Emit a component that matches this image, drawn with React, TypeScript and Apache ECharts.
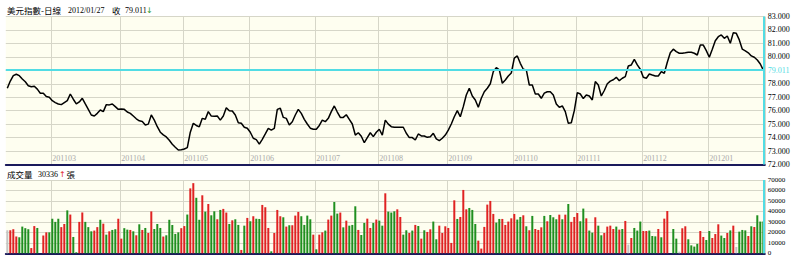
import React, { useEffect, useRef } from 'react';
import * as echarts from 'echarts';

// ---- data ----
const startDate = '2011-02-08';
const holidays = ['2012-01-02'];
const pointCount = 253;

const closes = [
  77.67, 78.2, 78.6, 78.71, 78.6, 78.35, 78.15, 77.85, 77.78, 77.82,
  77.6, 77.3, 77.3, 77.05, 77.0, 76.74, 76.6, 76.5, 76.45, 76.6,
  76.75, 77.24, 76.85, 76.5, 76.65, 76.92, 76.5, 76.1, 75.68, 75.6,
  75.8, 76.05, 75.93, 76.45, 76.43, 76.5, 76.3, 76.1, 76.12, 76.1,
  75.9, 75.8, 75.6, 75.4, 75.25, 75.2, 74.94, 75.0, 75.68, 75.3,
  74.81, 74.4, 74.2, 74.05, 73.8, 73.5, 73.28, 73.08, 73.1, 73.15,
  73.25, 74.4, 75.06, 74.9, 74.8, 75.43, 75.36, 75.93, 75.6, 75.58,
  75.6, 75.3, 75.6, 76.22, 76.0, 75.98, 75.68, 75.11, 75.06, 74.77,
  74.69, 74.4, 73.95, 73.85, 73.52, 73.87, 74.27, 74.69, 74.56, 74.69,
  76.1, 76.18, 75.5, 75.43, 74.94, 75.18, 75.68, 76.1, 75.8, 75.36,
  75.01, 74.7, 74.62, 74.62, 74.9, 75.3, 75.18, 75.43, 75.93, 76.35,
  75.9, 75.5, 75.5, 75.7, 75.36, 75.01, 74.19, 74.36, 74.1, 73.62,
  74.0, 74.36, 74.07, 74.4, 74.62, 74.19, 75.3, 75.0, 74.81, 74.77,
  74.77, 74.77, 74.77, 74.32, 74.0, 74.0, 73.82, 74.27, 74.12, 74.12,
  74.02, 74.07, 74.32, 73.9, 73.77, 73.95, 74.19, 74.56, 75.01, 75.55,
  76.0, 75.55, 76.3, 77.17, 77.67, 77.09, 76.8, 76.25, 76.92, 77.41,
  77.67, 78.0, 78.9, 79.2, 79.03, 78.04, 78.28, 78.58, 78.8, 79.9,
  80.07, 79.52, 79.08, 79.03, 77.91, 77.91, 77.24, 77.24, 76.92, 77.3,
  77.41, 77.41, 77.17, 76.5, 76.25, 76.35, 75.93, 75.06, 75.1, 76.0,
  77.34, 77.24, 76.9, 77.17, 77.09, 76.8, 78.16, 77.91, 77.09, 77.5,
  78.0, 78.2, 78.3, 78.48, 78.23, 78.41, 78.53, 79.32, 79.4, 79.82,
  79.4, 79.08, 78.48, 78.41, 78.73, 78.65, 78.58, 78.58, 78.9, 78.78,
  79.6, 80.3, 80.57, 80.39, 80.27, 80.27, 80.3, 80.34, 80.34, 80.27,
  80.14, 80.88, 80.88, 80.46, 79.97, 80.57, 81.2, 81.5, 81.63, 81.38,
  81.55, 81.01, 81.8, 81.75, 81.26, 80.57, 80.45, 80.3, 80.07, 79.97,
  79.77, 79.47, 79.011,
];

const volumes = [
  22000, 22000, 23000, 16000, 15300, 25500, 24000, 23000, 5000, 26000,
  24200, 0, 17000, 20000, 20000, 33000, 30000, 33000, 25000, 28000,
  41000, 37000, 15600, 1000, 30000, 39000, 30000, 25000, 21000, 21700,
  25000, 32000, 28300, 17800, 21000, 22300, 23000, 33000, 14000, 24000,
  22600, 22300, 21000, 17200, 27700, 22300, 24200, 19400, 40000, 23200,
  28000, 24200, 16000, 17200, 32000, 27000, 18500, 20000, 24000, 26000,
  37000, 62000, 67000, 53000, 32000, 55400, 39800, 47100, 36300, 40100,
  32500, 41400, 42400, 38900, 28000, 31500, 32500, 27100, 3200, 26400,
  33800, 30600, 35400, 33100, 32800, 46200, 44000, 24200, 1900, 19400,
  41400, 35400, 34400, 25500, 26800, 26800, 36000, 39500, 35400, 27100,
  36000, 32500, 17800, 3800, 17800, 20000, 21700, 32200, 36000, 49000,
  37900, 38900, 24800, 31200, 26400, 27100, 44900, 22300, 17500, 29000,
  33100, 24200, 29000, 32200, 31200, 26400, 57300, 39800, 38900, 40100,
  42000, 34700, 17800, 22000, 19400, 21700, 27100, 26100, 14000, 22000,
  20400, 22900, 30300, 13400, 26400, 19400, 25800, 24200, 9900, 50600,
  32800, 34700, 60500, 42000, 43300, 41400, 28000, 12100, 4500, 25200,
  46500, 50000, 37600, 29300, 32800, 32800, 27100, 30300, 33400, 37600,
  32200, 34700, 36300, 25800, 22000, 35700, 23200, 22300, 24800, 35700,
  30600, 36600, 34400, 32500, 36900, 32500, 36900, 47100, 30000, 34700,
  38500, 30600, 42700, 33400, 21700, 19700, 34400, 26400, 17200, 19400,
  25500, 26400, 23200, 25500, 22600, 23200, 30900, 8300, 14600, 24200,
  21700, 30300, 21300, 21300, 21700, 16500, 16200, 23200, 15300, 33100,
  40400, 0, 23200, 14000, 1600, 23900, 25800, 13400, 7600, 6400,
  9000, 21300, 15600, 12700, 21300, 14600, 18400, 27700, 16900, 14600,
  19400, 21900, 26400, 6000, 20700, 22300, 21900, 16500, 25800, 25100,
  36300, 30300, 30336,
];

// r = up (red), g = down (green), n = unchanged (grey)
const volColors = [
  'n','r','r','r','g','g','g','g','r','r',
  'g','n','r','r','g','g','g','g','r','r',
  'g','r','g','g','r','r','g','g','g','r',
  'r','g','r','g','r','g','g','r','r','g',
  'g','r','g','r','g','r','g','r','r','g',
  'g','g','r','g','g','g','g','g','r','r',
  'g','r','r','g','g','r','g','r','g','g',
  'r','g','r','r','g','r','g','g','r','g',
  'r','g','r','g','g','r','r','r','g','r',
  'r','r','g','r','g','r','r','r','g','g',
  'g','g','r','g','r','r','g','r','r','g',
  'g','r','g','r','g','g','g','r','g','g',
  'r','r','g','r','g','g','r','g','g','g',
  'r','r','g','g','r','g','r','g','r','g',
  'r','r','g','g','r','r','r','r','r','r',
  'g','r','r','r','g','g','g','r','r','r',
  'r','r','r','g','g','r','r','r','r','r',
  'g','g','r','g','r','g','r','r','r','g',
  'r','g','g','g','r','g','r','g','r','r',
  'r','g','g','r','g','g','r','g','g','r',
  'r','r','r','g','r','g','r','n','r','g',
  'g','g','r','r','g','g','g','r','g','r',
  'r','n','g','g','n','r','r','g','g','g',
  'g','r','r','g','g','r','r','r','g','g',
  'r','g','r','n','g','g','g','r','g','r',
  'g','g','g',
];

const priceTicks = [72, 73, 74, 75, 76, 77, 78, 79, 80, 81, 82, 83];
const volumeTicks = [0, 10000, 20000, 30000, 40000, 50000, 60000, 70000];
const lastClose = 79.011;
const lastVolume = 30336;
const titleName = '美元指數-日線';
const titleDate = '2012/01/27';
const volumeName = '成交量';

// ---- helpers ----
function buildDates(): string[] {
  const out: string[] = [];
  const [y, m, d0] = startDate.split('-').map(Number);
  const d = new Date(Date.UTC(y, m - 1, d0));
  while (out.length < pointCount) {
    const wd = d.getUTCDay();
    const s = d.toISOString().slice(0, 10);
    if (wd !== 0 && wd !== 6 && !holidays.includes(s)) out.push(s);
    d.setUTCDate(d.getUTCDate() + 1);
  }
  return out;
}

const COLORS: Record<string, string> = { r: '#e02222', g: '#1f8f1f', n: '#c4c4c4' };
const CYAN = '#52dce4';
const GRID = '#d6d6c8';
const PLOT_BG = '#fefef0';
const AXIS = '#1a1a5c';
const SERIF = '"Liberation Serif", "Noto Sans CJK TC", serif';
const CJK = '"Noto Sans CJK TC", "Liberation Serif", sans-serif';
const ARROW = '"DejaVu Sans", sans-serif';

export default function App() {
  const ref = useRef<HTMLDivElement>(null);

  useEffect(() => {
    if (!ref.current) return;
    const chart = echarts.init(ref.current, undefined, { renderer: 'svg' });
    const dates = buildDates();
    const monthStart = dates.map((s, i) => i > 0 && s.slice(5, 7) !== dates[i - 1].slice(5, 7));
    const lastDate = dates[dates.length - 1];

    const gridLeft = 5.8;
    const gridWidth = 759;

    const xCommon = (showLabel: boolean) => ({
      type: 'category',
      data: dates,
      boundaryGap: true,
      axisLine: { show: true, lineStyle: { color: AXIS, width: 2 } },
      axisTick: { show: false },
      axisLabel: {
        show: showLabel,
        inside: true,
        interval: (i: number) => monthStart[i],
        formatter: (v: string) => v.slice(0, 4) + v.slice(5, 7),
        color: '#a9a9a9',
        fontSize: 8,
        fontFamily: SERIF,
        align: 'left',
        margin: 2,
      },
      splitLine: {
        show: true,
        interval: (i: number) => monthStart[i],
        lineStyle: { color: GRID, width: 1 },
      },
    });

    const option: any = {
      animation: false,
      backgroundColor: '#ffffff',
      grid: [
        { left: gridLeft, top: 16.5, width: gridWidth, height: 148, show: true, backgroundColor: PLOT_BG, borderWidth: 0 },
        { left: gridLeft, top: 180, width: gridWidth, height: 73.3, show: true, backgroundColor: PLOT_BG, borderWidth: 0 },
      ],
      xAxis: [
        { ...xCommon(true), gridIndex: 0 },
        { ...xCommon(false), gridIndex: 1 },
      ],
      yAxis: [
        {
          type: 'value', gridIndex: 0, position: 'right',
          min: priceTicks[0], max: priceTicks[priceTicks.length - 1], interval: 1,
          axisLine: { show: false }, axisTick: { show: false },
          axisLabel: {
            formatter: (v: number) => (Math.abs(v - 79) < 1e-6 ? '' : v.toFixed(3)),
            color: '#000', fontSize: 8, fontFamily: SERIF, margin: 3,
          },
          splitLine: { show: true, lineStyle: { color: GRID, width: 1 } },
        },
        {
          type: 'value', gridIndex: 1, position: 'right',
          min: volumeTicks[0], max: volumeTicks[volumeTicks.length - 1], interval: 10000,
          axisLine: { show: false }, axisTick: { show: false },
          axisLabel: { formatter: (v: number) => String(v), color: '#000', fontSize: 7, fontFamily: SERIF, margin: 3 },
          splitLine: { show: true, lineStyle: { color: GRID, width: 1 } },
        },
      ],
      series: [
        {
          name: 'ref', type: 'line', xAxisIndex: 0, yAxisIndex: 0, data: closes,
          symbol: 'none', lineStyle: { opacity: 0 }, silent: true, z: 1,
          markLine: {
            silent: true, symbol: 'none', animation: false,
            data: [
              {
                yAxis: lastClose,
                lineStyle: { color: CYAN, width: 2, type: 'solid' },
                label: { show: true, position: 'end', formatter: lastClose.toFixed(3), color: CYAN, fontSize: 8, fontFamily: SERIF, distance: 3 },
              },
              {
                xAxis: lastDate,
                lineStyle: { color: CYAN, width: 2, type: 'solid' },
                label: { show: false },
              },
            ],
          },
        },
        {
          name: 'close', type: 'line', xAxisIndex: 0, yAxisIndex: 0, data: closes,
          symbol: 'none', lineStyle: { color: '#000', width: 1.5 }, z: 3,
        },
        {
          name: 'volume', type: 'bar', xAxisIndex: 1, yAxisIndex: 1,
          data: volumes.map((v, i) => ({ value: v, itemStyle: { color: COLORS[volColors[i]] } })),
          barWidth: 2, z: 2,
          markLine: {
            silent: true, symbol: 'none', animation: false,
            data: [{ xAxis: lastDate, lineStyle: { color: CYAN, width: 2, type: 'solid' }, label: { show: false } }],
          },
        },
      ],
      graphic: [
        { type: 'text', x: 7, y: 10, style: { text: titleName, fontSize: 8.5, fontFamily: CJK, fill: '#000', verticalAlign: 'middle' } },
        { type: 'text', x: 68, y: 10, style: { text: titleDate, fontSize: 8, fontFamily: SERIF, fill: '#000', verticalAlign: 'middle' } },
        { type: 'text', x: 112, y: 10, style: { text: '收', fontSize: 8.5, fontFamily: CJK, fill: '#000', verticalAlign: 'middle' } },
        { type: 'text', x: 125, y: 10, style: { text: lastClose.toFixed(3), fontSize: 8, fontFamily: SERIF, fill: '#000', verticalAlign: 'middle' } },
        { type: 'text', x: 146, y: 10, style: { text: '↓', fontSize: 8, fontFamily: ARROW, fill: '#2a9a2a', verticalAlign: 'middle' } },
        { type: 'text', x: 7, y: 174, style: { text: volumeName, fontSize: 8.5, fontFamily: CJK, fill: '#000', verticalAlign: 'middle' } },
        { type: 'text', x: 38, y: 174, style: { text: String(lastVolume), fontSize: 8, fontFamily: SERIF, fill: '#000', verticalAlign: 'middle' } },
        { type: 'text', x: 59, y: 174, style: { text: '↑', fontSize: 8, fontFamily: ARROW, fill: '#e02222', verticalAlign: 'middle' } },
        { type: 'text', x: 66.5, y: 174, style: { text: '張', fontSize: 8.5, fontFamily: CJK, fill: '#000', verticalAlign: 'middle' } },
      ],
    };

    chart.setOption(option);
    return () => chart.dispose();
  }, []);

  return (
    <div
      ref={ref}
      style={{ position: 'fixed', left: 0, top: 0, width: 800, height: 271, background: '#fff' }}
    />
  );
}
